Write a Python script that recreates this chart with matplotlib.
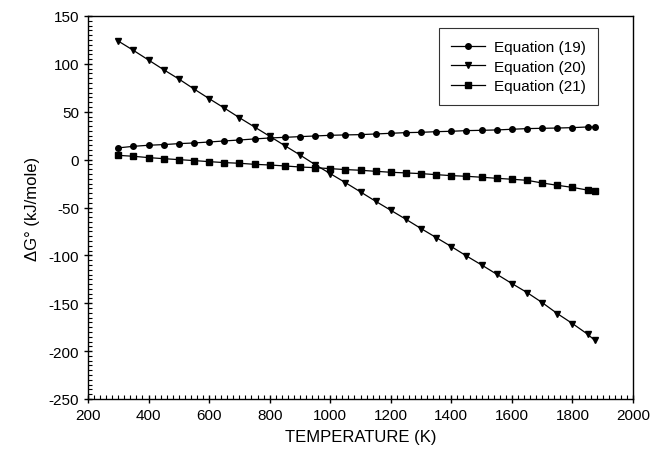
import matplotlib
matplotlib.use("Agg")
import matplotlib.pyplot as plt
from matplotlib.ticker import MultipleLocator

plt.rcParams.update({
    "font.family": ["Liberation Sans", "DejaVu Sans"],
    "font.size": 10,
    "axes.unicode_minus": False,
})

# temperature (K)
temp = [298, 350, 400, 450, 500, 550, 600, 650, 700, 750, 800, 850, 900, 950,
        1000, 1050, 1100, 1150, 1200, 1250, 1300, 1350, 1400, 1450, 1500,
        1550, 1600, 1650, 1700, 1750, 1800, 1850, 1873]

# dG (kJ/mole)
eq19 = [12.2, 13.9, 15.0, 15.7, 16.7, 17.4, 18.4, 19.5, 20.5, 21.6, 22.6,
        23.3, 24.0, 24.7, 25.4, 25.8, 26.1, 26.8, 27.5, 28.2, 28.5, 29.2,
        29.6, 30.3, 30.6, 31.0, 31.7, 32.4, 32.7, 33.0, 33.4, 34.1, 34.1]
eq20 = [124.2, 114.1, 104.0, 93.9, 84.2, 73.8, 63.7, 53.9, 43.8, 34.1, 24.4,
        14.6, 4.9, -5.2, -14.6, -24.0, -33.7, -43.5, -52.9, -62.3, -72.0,
        -81.4, -90.8, -100.6, -110.0, -119.7, -129.4, -138.8, -149.3,
        -160.8, -171.2, -182.3, -188.6]
eq21 = [4.5, 3.5, 2.1, 1.0, 0.0, -1.0, -2.1, -3.1, -3.8, -4.9, -5.6, -6.6,
        -7.7, -8.4, -9.4, -10.4, -11.1, -12.2, -13.2, -13.9, -14.6, -15.7,
        -16.7, -17.4, -18.4, -19.5, -20.5, -21.6, -24.4, -26.8, -29.0,
        -31.8, -33.0]

labels = ["Equation (19)", "Equation (20)", "Equation (21)"]

fig = plt.figure(figsize=(6.65, 4.56), dpi=100)
ax = fig.add_axes([88 / 665, 1 - 400 / 456, 545 / 665, 383 / 456])

ax.plot(temp, eq19, "-o", color="black", lw=0.9, ms=4, label=labels[0])
ax.plot(temp, eq20, "-v", color="black", lw=0.9, ms=4.5, label=labels[1])
ax.plot(temp, eq21, "-s", color="black", lw=0.9, ms=3.8, label=labels[2])

ax.set_xlim(200, 2000)
ax.set_ylim(-250, 150)
ax.xaxis.set_major_locator(MultipleLocator(200))
ax.xaxis.set_minor_locator(MultipleLocator(20))
ax.yaxis.set_major_locator(MultipleLocator(50))
ax.yaxis.set_minor_locator(MultipleLocator(5))
ax.tick_params(which="major", direction="inout", length=6, width=1,
               labelsize=11)
ax.tick_params(which="minor", direction="in", length=3, width=0.8)
for s in ax.spines.values():
    s.set_linewidth(1)

ax.set_xlabel("TEMPERATURE (K)", fontsize=12, labelpad=5)
ax.set_ylabel("ΔG° (kJ/mole)", fontsize=12, labelpad=6)

leg = ax.legend(loc="upper right", bbox_to_anchor=(0.950, 0.988),
                fancybox=False, edgecolor="black", fontsize=11,
                handlelength=2.2, handletextpad=0.6,
                borderpad=0.8, labelspacing=0.35)
leg.get_frame().set_linewidth(0.8)

fig.savefig("out.png", dpi=100)
